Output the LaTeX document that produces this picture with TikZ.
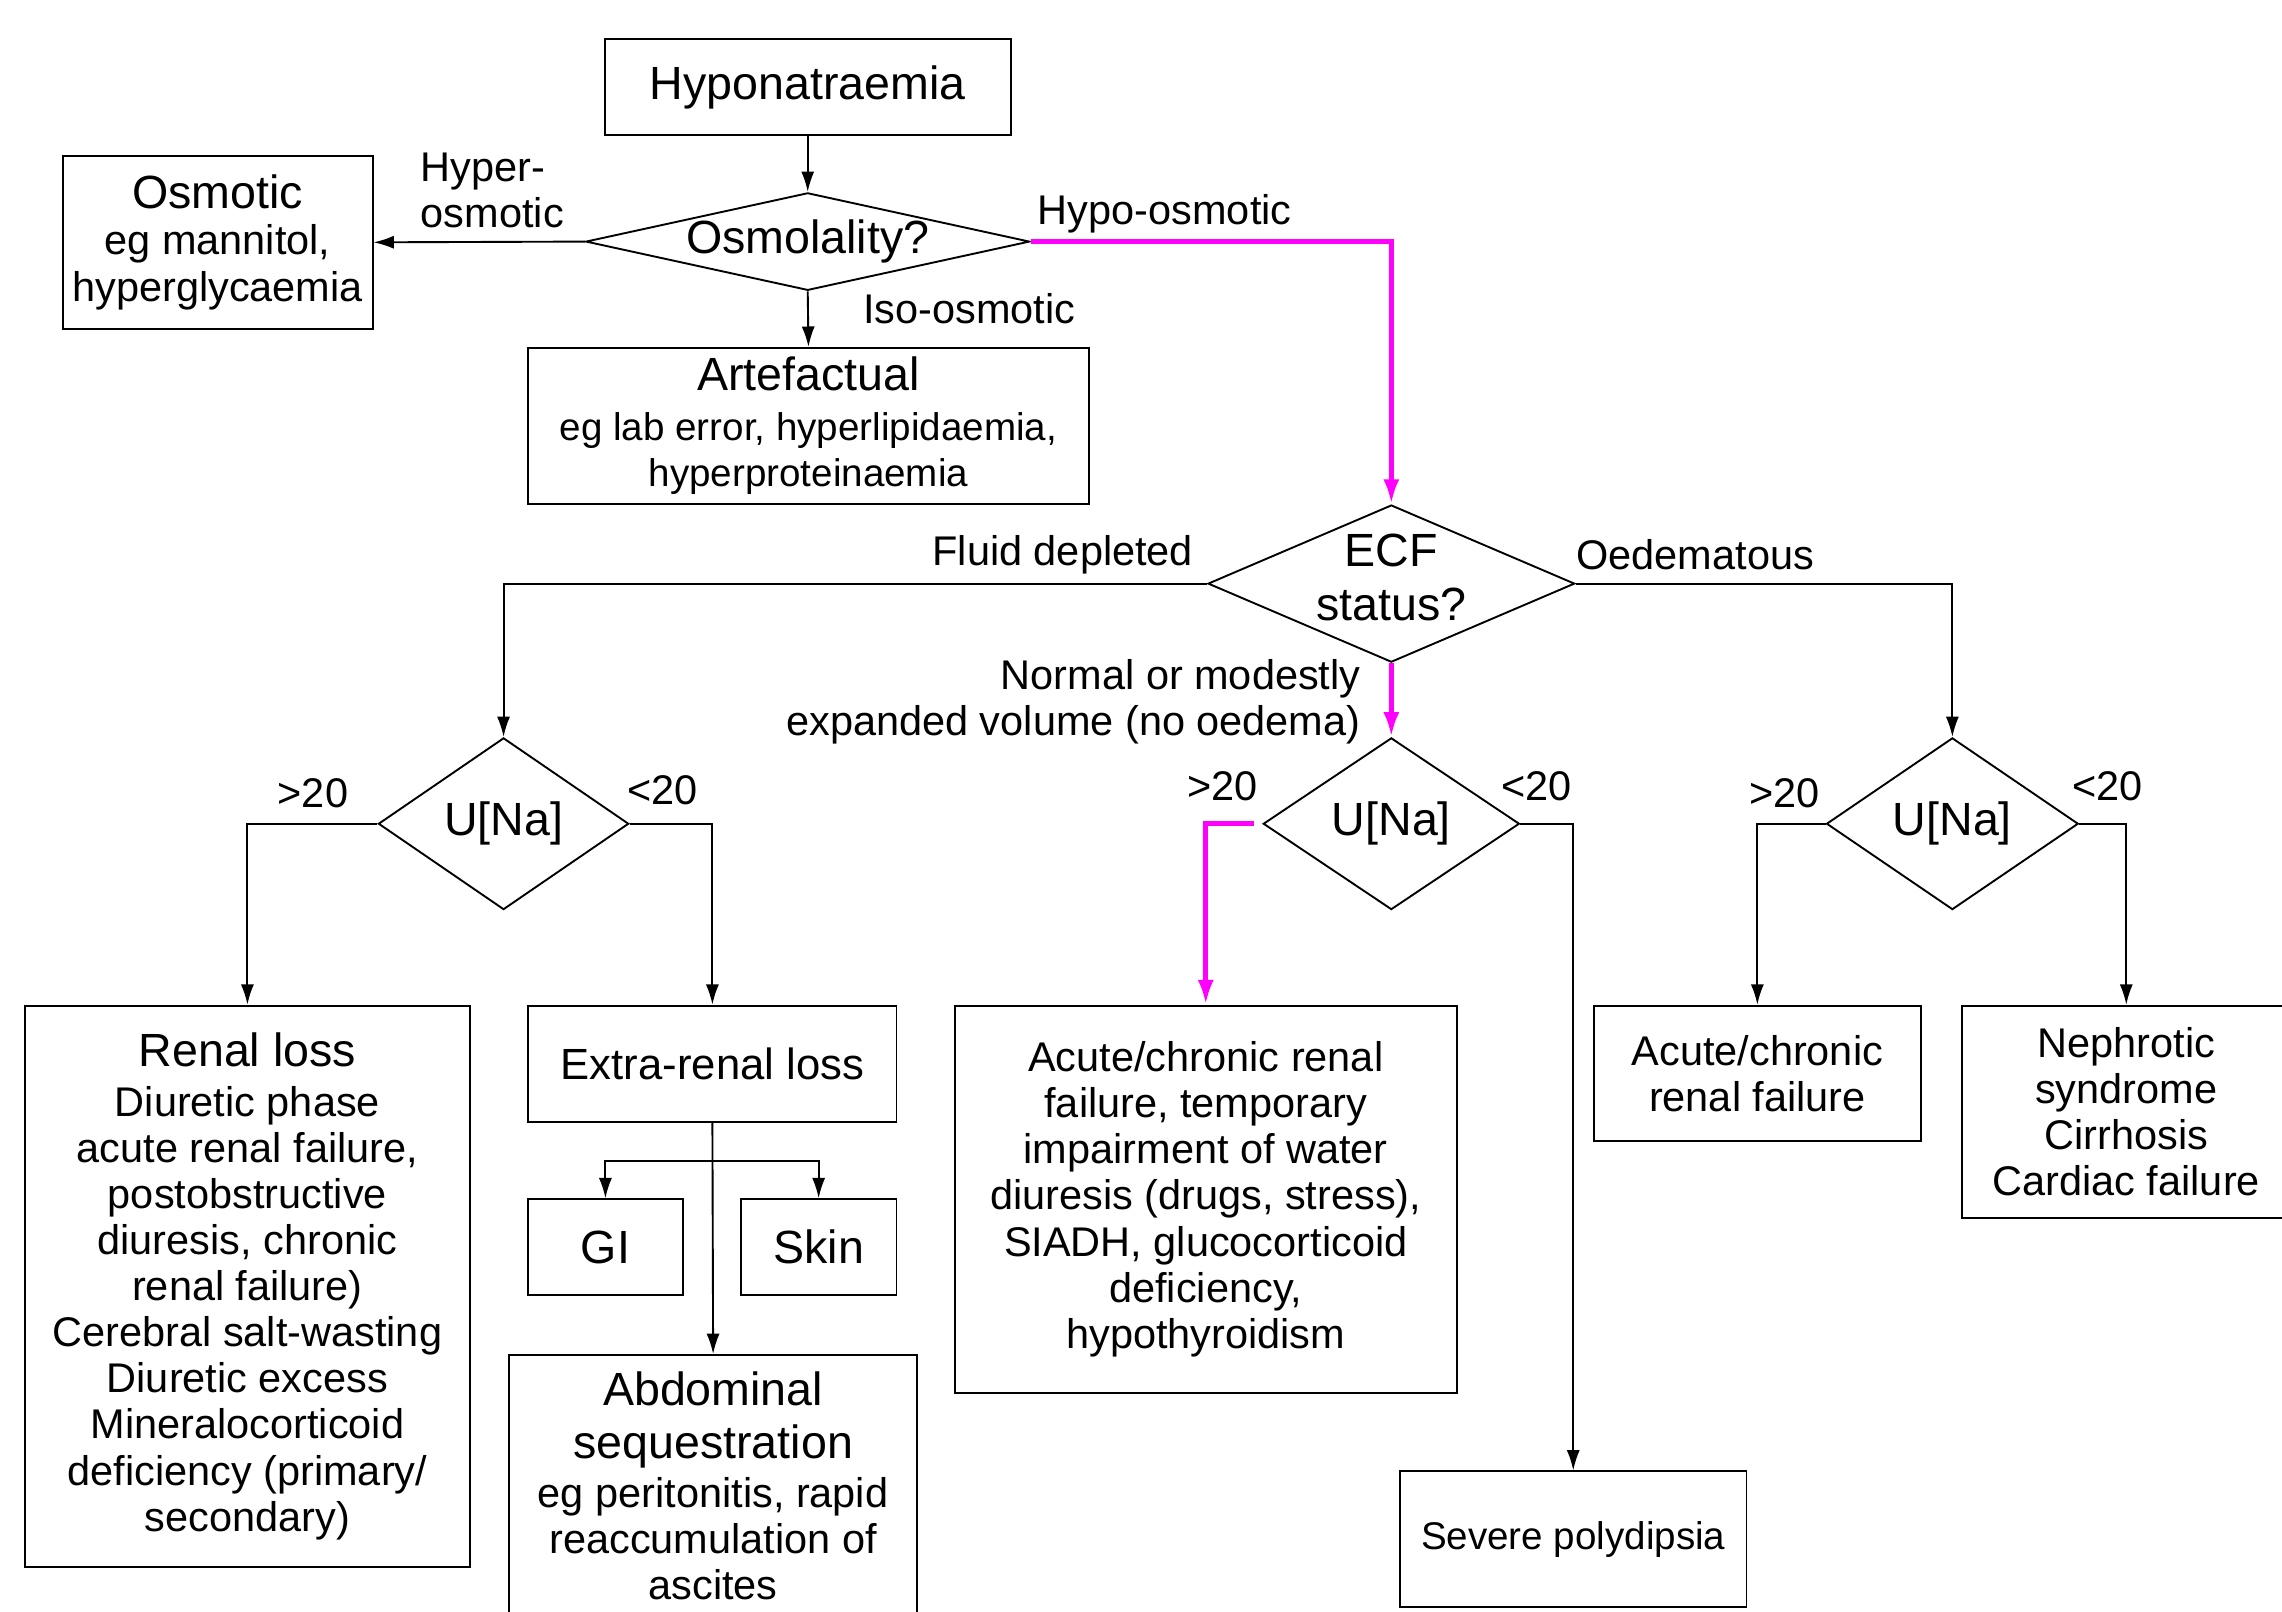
\documentclass[tikz,border=0pt]{standalone}
\usepackage{fontspec}
\setmainfont{Liberation Sans}
\usetikzlibrary{shapes.geometric,arrows.meta}
\newcommand\headf{\fontsize{32}{37}\selectfont}
\newcommand\bodyf{\fontsize{28.5}{31.7}\selectfont}
\newcommand\smallf{\fontsize{26.5}{31}\selectfont}
\definecolor{hlmag}{RGB}{255,0,255}
\begin{document}
\begin{tikzpicture}[x=1pt,y=-1pt,
  box/.style={draw, line width=1.3pt, inner sep=0pt, align=center, font=\bodyf},
  dia/.style={draw, diamond, line width=1.3pt, inner sep=0pt},
  lab/.style={font=\bodyf, inner sep=0pt},
  arr/.style={line width=1.3pt, -{Latex[length=14pt,width=9pt]}},
  hlarr/.style={draw=hlmag, line width=3.2pt, -{Latex[length=17pt,width=11pt]}}]
\useasboundingbox[fill=white] (0,0) rectangle (1568,1107);

% top part
\node[box, minimum width=279pt, minimum height=66pt, font=\headf] (hypo) at (555,60) {Hyponatraemia};
\node[dia, minimum width=305pt, minimum height=67pt, label={[font=\headf]center:Osmolality?}] (osmd) at (555,166) {};
\node[box, minimum width=213pt, minimum height=119pt] (osm) at (149.5,166.5) {{\headf Osmotic}\\eg mannitol,\\hyperglycaemia};
\node[box, minimum width=385pt, minimum height=107pt] (art) at (555.5,292.5) {{\headf Artefactual}\\[3pt]{\smallf eg lab error, hyperlipidaemia,}\\{\smallf hyperproteinaemia}};

\node[lab, align=left, anchor=west] (lhyper) at (289,131) {Hyper-\\osmotic};
\node[lab, anchor=west] (lhypo) at (713,147) {Hypo-osmotic};
\node[lab, anchor=west] (liso) at (593,212) {Iso-osmotic};

% ECF
\node[dia, minimum width=252pt, minimum height=108pt, label={[font=\headf,align=center,yshift=4pt]center:{ECF\\status?}}] (ecf) at (956,401) {};
\node[lab, anchor=east] (lfluid) at (820,381) {Fluid depleted};
\node[lab, anchor=west] (loed) at (1083,381) {Oedematous};
\node[lab, align=right, anchor=east] (lnorm) at (935,482) {Normal or modestly\\expanded volume (no oedema)};

% U[Na] diamonds
\node[dia, minimum width=172pt, minimum height=118pt, label={[font=\headf]center:{U[Na]}}] (u1) at (346,566) {};
\node[dia, minimum width=176pt, minimum height=118pt, label={[font=\headf]center:{U[Na]}}] (u2) at (956,566) {};
\node[dia, minimum width=173pt, minimum height=118pt, label={[font=\headf]center:{U[Na]}}] (u3) at (1341.5,566) {};

\node[lab] (g1) at (215,545) {>20};
\node[lab] (l1) at (455,543) {<20};
\node[lab] (g2) at (840,540) {>20};
\node[lab] (l2) at (1056,540) {<20};
\node[lab] (g3) at (1226,545) {>20};
\node[lab] (l3) at (1448,540) {<20};

% bottom boxes
\node[box, minimum width=306pt, minimum height=386pt] (renal) at (170,884) {{\headf Renal loss}\\[2pt]Diuretic phase\\acute renal failure,\\postobstructive\\diuresis, chronic\\renal failure)\\Cerebral salt-wasting\\Diuretic excess\\Mineralocorticoid\\deficiency (primary/\\secondary)};
\node[box, minimum width=253pt, minimum height=80pt, font=\fontsize{30}{36}\selectfont] (extra) at (489.5,731) {Extra-renal loss};
\node[box, minimum width=106pt, minimum height=66pt, font=\headf] (gi) at (416,857) {GI};
\node[box, minimum width=107pt, minimum height=66pt, font=\headf] (skin) at (562.5,857) {Skin};
\node[box, minimum width=280pt, minimum height=180pt] (abd) at (490,1021) {{\headf Abdominal}\\[5pt]{\headf sequestration}\\[2pt]eg peritonitis, rapid\\reaccumulation of\\ascites};
\node[box, minimum width=345pt, minimum height=266pt] (mid) at (828.5,824) {Acute/chronic renal\\failure, temporary\\impairment of water\\diuresis (drugs, stress),\\SIADH, glucocorticoid\\deficiency,\\hypothyroidism};
\node[box, minimum width=238pt, minimum height=93pt, font=\smallf] (poly) at (1081,1057.5) {Severe polydipsia};
\node[box, minimum width=225pt, minimum height=93pt] (arf) at (1207.5,737.5) {Acute/chronic\\renal failure};
\node[box, minimum width=226pt, minimum height=146pt] (neph) at (1461,764) {Nephrotic\\syndrome\\Cirrhosis\\Cardiac failure};

% connectors
\draw[arr] (hypo.south) -- (osmd.north);
\draw[arr] (osmd.west) -- (osm.east);
\draw[arr] (osmd.south) -- (art.north);
\draw[hlarr] (osmd.east) -| (ecf.north);
\draw[arr] (ecf.west) -| (u1.north);
\draw[arr] (ecf.east) -| (u3.north);
\draw[hlarr] (ecf.south) -- (u2.north);
\draw[arr] (u1.west) -| (renal.north);
\draw[arr] (u1.east) -| (extra.north);
\draw[arr] (extra.south) -- (abd.north);
\coordinate (br) at (489.5,798);
\draw[arr] (br) -| (gi.north);
\draw[arr] (br) -| (skin.north);
\coordinate (m0) at ([xshift=-6pt]u2.west);
\draw[hlarr] (m0) -| (mid.north);
\draw[arr] (u2.east) -| (poly.north);
\draw[arr] (u3.west) -| (arf.north);
\draw[arr] (u3.east) -| (neph.north);
\end{tikzpicture}
\end{document}
